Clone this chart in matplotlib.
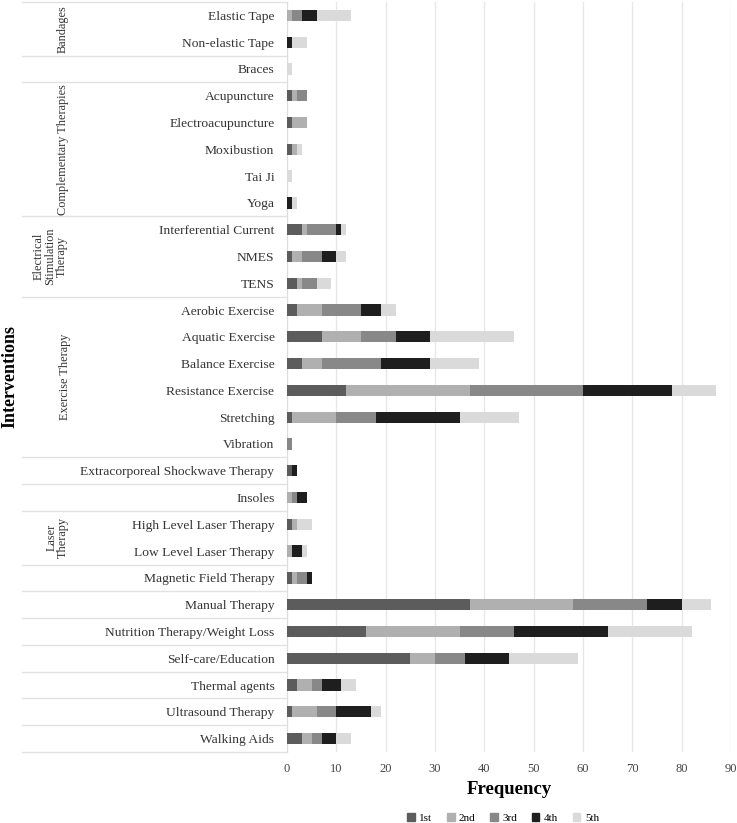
import numpy as np
import matplotlib
matplotlib.use('Agg')
import matplotlib.pyplot as plt
from matplotlib.patches import Patch
from matplotlib.transforms import blended_transform_factory

plt.rcParams['font.family'] = ['Liberation Serif', 'DejaVu Serif']

# interventions, top -> bottom
labels = ['Elastic Tape', 'Non-elastic Tape', 'Braces', 'Acupuncture',
          'Electroacupuncture', 'Moxibustion', 'Tai Ji', 'Yoga',
          'Interferential Current', 'NMES', 'TENS', 'Aerobic Exercise',
          'Aquatic Exercise', 'Balance Exercise', 'Resistance Exercise',
          'Stretching', 'Vibration', 'Extracorporeal Shockwave Therapy',
          'Insoles', 'High Level Laser Therapy', 'Low Level Laser Therapy',
          'Magnetic Field Therapy', 'Manual Therapy',
          'Nutrition Therapy/Weight Loss', 'Self-care/Education',
          'Thermal agents', 'Ultrasound Therapy', 'Walking Aids']

first = [0, 0, 0, 1, 1, 1, 0, 0, 3, 1, 2, 2, 7, 3, 12, 1, 0, 1, 0, 1, 0, 1, 37, 16, 25, 2, 1, 3]
second = [1, 0, 0, 1, 3, 1, 0, 0, 1, 2, 1, 5, 8, 4, 25, 9, 0, 0, 1, 1, 1, 1, 21, 19, 5, 3, 5, 2]
third = [2, 0, 0, 2, 0, 0, 0, 0, 6, 4, 3, 8, 7, 12, 23, 8, 1, 0, 1, 0, 0, 2, 15, 11, 6, 2, 4, 2]
fourth = [3, 1, 0, 0, 0, 0, 0, 1, 1, 3, 0, 4, 7, 10, 18, 17, 0, 1, 2, 0, 2, 1, 7, 19, 9, 4, 7, 3]
fifth = [7, 3, 1, 0, 0, 1, 1, 1, 1, 2, 3, 3, 17, 10, 9, 12, 0, 0, 0, 3, 1, 0, 6, 17, 14, 3, 2, 3]

rank_names = ['1st', '2nd', '3rd', '4th', '5th']
rank_colors = ['#5c5c5c', '#b0b0b0', '#888888', '#1e1e1e', '#dadada']

# (label, first row, last row, x in pixels)
groups = [('Bandages', 0, 1, 63),
          ('Complementary Therapies', 3, 7, 63),
          ('Electrical\nStimulation\nTherapy', 8, 10, 50),
          ('Exercise Therapy', 11, 16, 65),
          ('Laser\nTherapy', 19, 20, 57)]
# separator lines sit below these rows
seps = [-1, 1, 2, 7, 10, 16, 17, 18, 20, 21, 22, 23, 24, 25, 26, 27]

W, H = 737, 823
fig = plt.figure(figsize=(W / 100, H / 100), dpi=100)
ax = fig.add_axes([287 / W, (H - 752) / H, 444 / W, 750 / H])

y = np.arange(len(labels))
left = np.zeros(len(labels))
for vals, name, col in zip([first, second, third, fourth, fifth], rank_names, rank_colors):
    ax.barh(y, vals, left=left, height=0.42, color=col, label=name, zorder=3)
    left += np.array(vals)

ax.set_xlim(0, 90)
ax.set_xticks(range(0, 91, 10))
ax.set_ylim(len(labels) - 0.5, -0.5)
ax.set_yticks(y)
ax.set_yticklabels(labels, fontsize=9.7, color='#333333')
ax.tick_params(axis='both', length=0)
ax.tick_params(axis='y', pad=9)
ax.tick_params(axis='x', pad=8, labelsize=9, labelcolor='#444444')
ax.grid(axis='x', color='#e4e6ea', linewidth=0.9, zorder=0)
for s in ['top', 'right', 'bottom']:
    ax.spines[s].set_visible(False)
ax.spines['left'].set_color('#dcdcdc')

# table-like separators on the left
tr = blended_transform_factory(fig.transFigure, ax.transData)
for r in seps:
    ax.plot([22 / W, 287 / W], [r + 0.5, r + 0.5], transform=tr, color='#e2e2e2',
            linewidth=1, clip_on=False)

for name, r0, r1, xp in groups:
    ax.text(xp / W, (r0 + r1) / 2, name, transform=tr, rotation=90, ha='center',
            va='center', fontsize=8.8, color='#333333', linespacing=0.95)

fig.text(10 / W, 1 - 377 / H, 'Interventions', rotation=90, ha='center', va='center',
         fontsize=13, fontweight='bold')
fig.text(509 / W, 1 - 790 / H, 'Frequency', ha='center', va='center',
         fontsize=13.5, fontweight='bold')

handles = [Patch(color=c, label=n) for c, n in zip(rank_colors, rank_names)]
fig.legend(handles=handles, loc='center', bbox_to_anchor=(503 / W, 1 - 818 / H), ncol=5,
           frameon=False, fontsize=8, handlelength=0.7, handleheight=0.7,
           handletextpad=0.4, columnspacing=1.3)

fig.savefig('out.png', dpi=100)
